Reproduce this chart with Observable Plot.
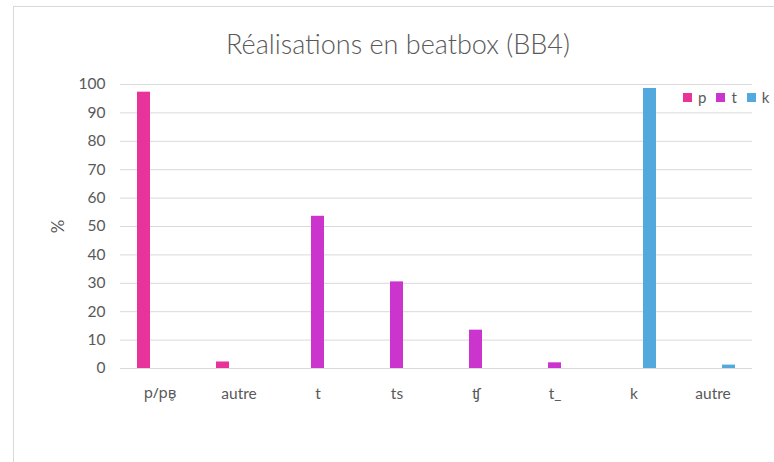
<!DOCTYPE html>
<html>
<head>
<meta charset="utf-8">
<script src="https://cdn.jsdelivr.net/npm/d3@7"></script>
<script src="https://cdn.jsdelivr.net/npm/@observablehq/plot@0.6"></script>
<style>
  html, body { margin: 0; padding: 0; background: #fff; }
  #wrap { position: relative; width: 774px; height: 462px; overflow: hidden; font-family: Lato, "Open Sans", sans-serif; color: #595959; }
  #frame { position: absolute; left: 13px; top: 6px; width: 800px; height: 500px; border-left: 1px solid #d9d9d9; border-top: 1px solid #d9d9d9; }
  #title { position: absolute; left: 13px; width: 770px; top: 28px; line-height: 32px; text-align: center; font-size: 27px; font-weight: 300; color: #595959; }
  #legend { position: absolute; left: 683px; top: 87px; display: flex; align-items: center; font-size: 15px; line-height: 20px; }
  #legend .sw { width: 9px; height: 9px; margin-right: 6px; }
  #legend .lb { margin-right: 10px; }
  #chart { position: absolute; left: 0; top: 0; }
</style>
</head>
<body>
<div id="wrap">
  <div id="frame"></div>
  <div id="chart"></div>
  <div id="title">Réalisations en beatbox (BB4)</div>
  <div id="legend"></div>
</div>
<script>
const categories = ["p/pʙ̥", "autre", "t", "ts", "ʧ", "t_", "k", "autre"];
const categorySeries = ["p", "p", "t", "t", "t", "t", "k", "k"];
const values = [97.3, 2.3, 53.6, 30.5, 13.5, 2.0, 98.6, 1.2];
const series = ["p", "t", "k"];
const colors = ["#E8339A", "#CB35CD", "#52A9DD"];
const yTicks = [0, 10, 20, 30, 40, 50, 60, 70, 80, 90, 100];

const data = categories.map((c, i) => ({idx: i, label: c, series: categorySeries[i], value: values[i]}));

const chart = Plot.plot({
  width: 774,
  height: 462,
  marginLeft: 120,
  marginRight: 22,
  marginTop: 84,
  marginBottom: 94,
  style: {fontFamily: "Lato, 'Open Sans', sans-serif", fontSize: "15.5px", color: "#595959", background: "transparent", overflow: "visible"},
  fx: {domain: d3.range(categories.length), padding: 0, tickFormat: i => categories[i], label: null, axis: "bottom", tickSize: 0, tickPadding: 19},
  x: {domain: series, paddingInner: 0.17, paddingOuter: 0.93, axis: null},
  y: {domain: [0, 100], ticks: yTicks, tickSize: 0, tickPadding: 15, label: "%", labelAnchor: "center", labelArrow: "none", labelOffset: 69},
  color: {domain: series, range: colors},
  marks: [
    Plot.ruleY(yTicks, {stroke: "#d9d9d9", strokeOpacity: 1, strokeWidth: 1}),
    Plot.barY(data, {fx: "idx", x: "series", y: "value", fill: "series"})
  ]
});
document.getElementById("chart").appendChild(chart);

// label with combining diacritic: use a font that positions the ring correctly
d3.select(chart).selectAll("text").filter(function() { return this.textContent === categories[0]; })
  .style("font-family", "'Noto Sans', 'DejaVu Sans', sans-serif").style("font-size", "15px");
// y-axis label slightly larger
d3.select(chart).selectAll("text").filter(function() { return this.textContent === "%"; })
  .style("font-size", "17px");

const legend = document.getElementById("legend");
series.forEach((s, i) => {
  const sw = document.createElement("span");
  sw.className = "sw";
  sw.style.background = colors[i];
  const lb = document.createElement("span");
  lb.className = "lb";
  lb.textContent = s;
  legend.appendChild(sw);
  legend.appendChild(lb);
});
</script>
</body>
</html>
